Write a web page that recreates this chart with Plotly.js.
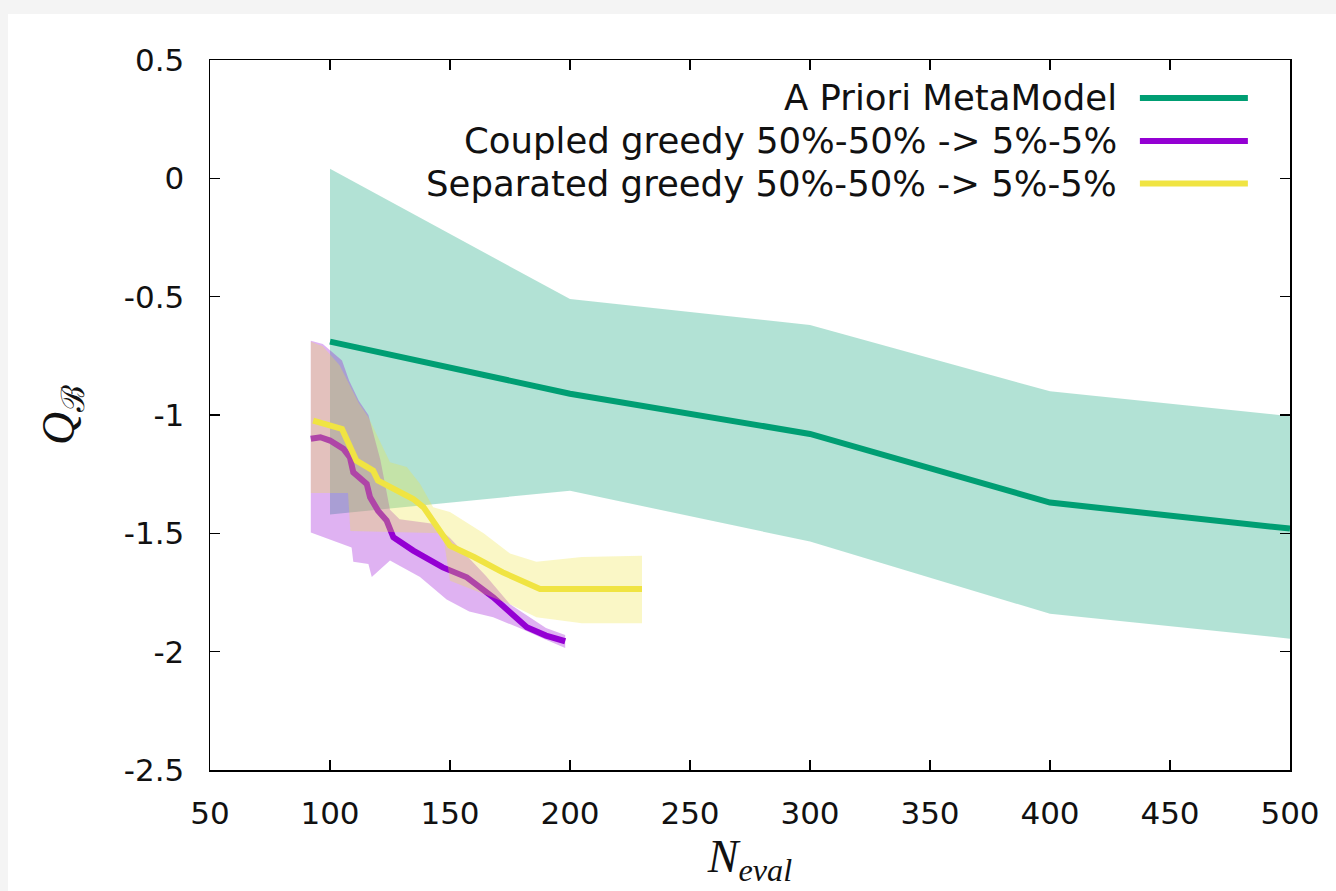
<!DOCTYPE html>
<html>
<head>
<meta charset="utf-8">
<script src="https://cdn.plot.ly/plotly-3.0.1.min.js"></script>
<style>
  html, body { margin: 0; padding: 0; background: #f4f4f4; width: 1336px; height: 891px; overflow: hidden; }
  #plot { position: absolute; left: 8px; top: 14px; width: 1328px; height: 877px; background: #ffffff; }
</style>
</head>
<body>
<div id="plot"></div>
<script>
// ---------------- data ----------------
const seriesNames = ["A Priori MetaModel", "Coupled greedy 50%-50% -> 5%-5%", "Separated greedy 50%-50% -> 5%-5%"];
const seriesColors = ["#009e73", "#9400d3", "#f0e442"];
const bandColors = ["rgba(0,158,115,0.3)", "rgba(148,0,211,0.3)", "rgba(240,228,66,0.3)"];

// A Priori MetaModel
const aprioriX     = [100, 200, 300, 400, 500];
const aprioriMean  = [-0.69, -0.91, -1.08, -1.37, -1.48];
const aprioriUpper = [0.04, -0.51, -0.62, -0.90, -1.005];
const aprioriLower = [-1.42, -1.32, -1.535, -1.84, -1.945];

// Coupled greedy
const coupledX    = [92, 96, 100, 105.6, 108.3, 109.7, 115.3, 116.7, 120, 123.6, 126.4, 134.7, 147, 157, 168, 178, 182, 190, 198];
const coupledMean = [-1.10, -1.094, -1.108, -1.143, -1.179, -1.242, -1.291, -1.348, -1.404, -1.446, -1.517, -1.573, -1.644, -1.686, -1.77, -1.855, -1.897, -1.932, -1.956];
const coupledUpX  = [92, 97, 105, 108, 112, 116, 121, 125, 129, 143, 150, 165, 175, 190, 198];
const coupledUpY  = [-0.686, -0.70, -0.77, -0.855, -0.94, -1.0, -1.19, -1.40, -1.44, -1.46, -1.52, -1.68, -1.80, -1.90, -1.93];
const coupledLoX  = [92, 98.6, 109, 109.7, 116, 117.4, 125, 137.5, 148.6, 158, 168, 179, 190, 198];
const coupledLoY  = [-1.496, -1.52, -1.56, -1.62, -1.63, -1.685, -1.615, -1.685, -1.78, -1.83, -1.855, -1.90, -1.95, -1.985];

// Separated greedy
const separatedX    = [93, 105, 111, 118, 120, 134.7, 139, 150, 160, 172, 187.5, 230];
const separatedMean = [-1.024, -1.059, -1.193, -1.235, -1.277, -1.355, -1.39, -1.552, -1.60, -1.665, -1.735, -1.735];
const separatedUpX  = [92, 97, 104, 108, 112, 116, 125, 132, 137.5, 143, 150, 164, 175, 186, 205, 230];
const separatedUpY  = [-0.69, -0.71, -0.79, -0.87, -0.95, -1.01, -1.20, -1.22, -1.29, -1.39, -1.41, -1.50, -1.585, -1.62, -1.60, -1.595];
const separatedLoX  = [92, 107.5, 108.5, 147, 150, 175, 186, 205, 230];
const separatedLoY  = [-1.33, -1.33, -1.49, -1.50, -1.70, -1.80, -1.855, -1.88, -1.88];

// ticks
const xTicks = [50, 100, 150, 200, 250, 300, 350, 400, 450, 500];
const yTicks = [-2.5, -2, -1.5, -1, -0.5, 0, 0.5];
const yTickText = ["-2.5", "-2", "-1.5", "-1", "-0.5", "0", "0.5"];

// ---------------- helpers ----------------
function band(upX, upY, loX, loY, color) {
  return {
    x: upX.concat(loX.slice().reverse()),
    y: upY.concat(loY.slice().reverse()),
    type: "scatter", mode: "lines", fill: "toself",
    fillcolor: color, line: { width: 0, color: "rgba(0,0,0,0)" },
    hoverinfo: "skip", showlegend: false
  };
}
function line(x, y, color) {
  return {
    x: x, y: y, type: "scatter", mode: "lines",
    line: { color: color, width: 6 }, showlegend: false
  };
}

const traces = [
  band(aprioriX, aprioriUpper, aprioriX, aprioriLower, bandColors[0]),
  line(aprioriX, aprioriMean, seriesColors[0]),
  band(coupledUpX, coupledUpY, coupledLoX, coupledLoY, bandColors[1]),
  line(coupledX, coupledMean, seriesColors[1]),
  band(separatedUpX, separatedUpY, separatedLoX, separatedLoY, bandColors[2]),
  line(separatedX, separatedMean, seriesColors[2])
];

// custom legend: right-aligned text, sample line on the right
const legendRows = [0.9465, 0.886, 0.826];
const annotations = [];
const shapes = [];
seriesNames.forEach(function (name, i) {
  annotations.push({
    xref: "paper", yref: "paper", x: 0.8417, y: legendRows[i],
    xanchor: "right", yanchor: "middle", showarrow: false,
    text: name, font: { family: "DejaVu Sans", size: 35.5, color: "#111" }
  });
  shapes.push({
    type: "line", xref: "paper", yref: "paper",
    x0: 0.861, x1: 0.961, y0: legendRows[i], y1: legendRows[i],
    line: { color: seriesColors[i], width: 6 }
  });
});

const axisCommon = {
  showgrid: false, zeroline: false,
  showline: true, linecolor: "#000", linewidth: 1.5, mirror: "ticks",
  ticks: "inside", ticklen: 10, tickwidth: 1.2, tickcolor: "#000",
  tickfont: { family: "DejaVu Sans", size: 31, color: "#111" }
};

const layout = {
  width: 1328, height: 877,
  margin: { l: 202, r: 46, t: 46, b: 121 },
  paper_bgcolor: "#ffffff", plot_bgcolor: "#ffffff",
  showlegend: false,
  xaxis: Object.assign({}, axisCommon, {
    range: [50, 500], tickvals: xTicks, ticktext: xTicks.map(String),
    ticklabelstandoff: 15,
    title: { text: "<i>N</i><sub><i>eval</i></sub>", font: { family: "Liberation Serif", size: 46, color: "#111" }, standoff: 8 }
  }),
  yaxis: Object.assign({}, axisCommon, {
    range: [-2.5, 0.5], tickvals: yTicks, ticktext: yTickText,
    ticklabelstandoff: 18,
    title: { text: "<i>Q</i><sub>ℬ</sub>", font: { family: "Liberation Serif", size: 46, color: "#111" }, standoff: 34 }
  }),
  annotations: annotations,
  shapes: shapes
};

Plotly.newPlot("plot", traces, layout, { staticPlot: true, displayModeBar: false });
</script>
</body>
</html>
